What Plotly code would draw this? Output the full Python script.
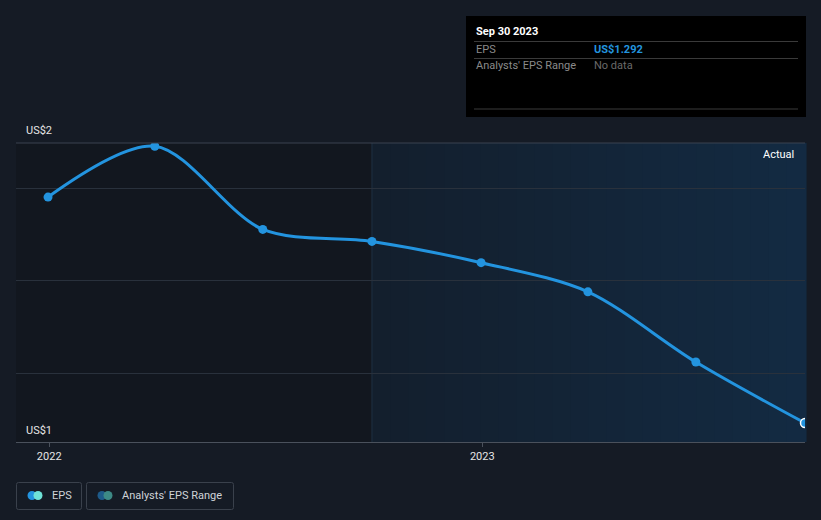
import plotly.graph_objects as go

# ---- data ----
dates = ["2021-12-31", "2022-03-31", "2022-06-30", "2022-09-30",
         "2022-12-31", "2023-03-31", "2023-06-30", "2023-09-30"]
eps = [1.781, 1.891, 1.711, 1.685, 1.639, 1.576, 1.424, 1.292]
grid_vals = [1.4, 1.6, 1.8]
x_tick_vals = ["2022-01-01", "2023-01-01"]
x_tick_text = ["2022", "2023"]
y_labels = ["US$2", "US$1"]
divider_date = "2022-09-30"
x_range = ["2021-12-04", "2023-09-30"]
y_range = [1.251, 1.898]

W, H = 821, 520
L, R, T, B = 16, 805, 143, 442

def px(x):
    return (x - L) / (R - L)

def py(y):
    return (B - y) / (B - T)

BG = "#151b25"
BLUE = "#2394df"

fig = go.Figure()
fig.add_trace(go.Scatter(
    x=dates, y=eps, mode="lines+markers",
    line=dict(color=BLUE, width=3, shape="spline", smoothing=0.9),
    marker=dict(size=9, color=BLUE,
                line=dict(color=[BLUE] * (len(eps) - 1) + ["#ffffff"], width=[0] * (len(eps) - 1) + [1.5])),
    hoverinfo="skip", showlegend=False,
))

shapes = []
# left (past) region
shapes.append(dict(type="rect", xref="x", yref="paper", x0=x_range[0], x1=divider_date, y0=0, y1=1,
                   fillcolor="#12171f", line=dict(width=0), layer="below"))
# right region gradient
n = 24
c0 = (0x13, 0x1f, 0x2d)
c1 = (0x13, 0x2a, 0x42)
x0p = px(372)
for i in range(n):
    f = i / (n - 1)
    col = "rgb(%d,%d,%d)" % tuple(round(a + (b - a) * f) for a, b in zip(c0, c1))
    shapes.append(dict(type="rect", xref="paper", yref="paper",
                       x0=x0p + (1 - x0p) * i / n, x1=x0p + (1 - x0p) * (i + 1) / n + 0.002,
                       y0=0, y1=1, fillcolor=col, line=dict(width=0), layer="below"))
# divider line
shapes.append(dict(type="line", xref="x", yref="paper", x0=divider_date, x1=divider_date, y0=0, y1=1,
                   line=dict(color="#1f3043", width=1), layer="below"))
# top border line
shapes.append(dict(type="line", xref="paper", yref="paper", x0=0, x1=1, y0=1, y1=1,
                   line=dict(color="#3b4350", width=1)))

# tooltip box
shapes.append(dict(type="rect", xref="paper", yref="paper", x0=px(466), x1=px(806), y0=py(117), y1=py(16),
                   fillcolor="#000000", line=dict(width=0)))
for yy in [41.5, 58.5, 109]:
    shapes.append(dict(type="line", xref="paper", yref="paper", x0=px(474), x1=px(798), y0=py(yy), y1=py(yy),
                       line=dict(color="#3a3a3a", width=1)))

# legend boxes
def rrect(x0, y0, x1, y1, r=2):
    return (f"M{px(x0+r)},{py(y0)} L{px(x1-r)},{py(y0)} Q{px(x1)},{py(y0)} {px(x1)},{py(y0+r)} "
            f"L{px(x1)},{py(y1-r)} Q{px(x1)},{py(y1)} {px(x1-r)},{py(y1)} L{px(x0+r)},{py(y1)} "
            f"Q{px(x0)},{py(y1)} {px(x0)},{py(y1-r)} L{px(x0)},{py(y0+r)} Q{px(x0)},{py(y0)} {px(x0+r)},{py(y0)} Z")

shapes.append(dict(type="path", xref="paper", yref="paper", path=rrect(16.5, 482.5, 81.5, 509.5),
                   line=dict(color="#3a414c", width=1)))
shapes.append(dict(type="path", xref="paper", yref="paper", path=rrect(86.5, 482.5, 233.5, 509.5),
                   line=dict(color="#3a414c", width=1)))

def circ(cx, cy, r, col):
    return dict(type="circle", xref="paper", yref="paper", x0=px(cx - r), x1=px(cx + r),
                y0=py(cy + r), y1=py(cy - r), fillcolor=col, line=dict(width=0))

shapes += [circ(32, 495.5, 4.5, BLUE), circ(38, 495.5, 4.5, "#6fe3d8"),
           circ(102, 495.5, 4.5, "#1e5b8a"), circ(108, 495.5, 4.5, "#3d8a86")]

FONT = "Roboto"
ann = []
def text(x, y, s, size=11, color="#ffffff", xanchor="left", weight=None):
    t = f"<b>{s}</b>" if weight else s
    ann.append(dict(xref="paper", yref="paper", x=px(x), y=py(y), text=t, showarrow=False,
                    xanchor=xanchor, yanchor="middle", font=dict(family=FONT, size=size, color=color)))

text(24, 130, y_labels[0], 11, "#e6e6e6")
text(24, 430, y_labels[1], 11, "#e6e6e6")
text(796, 154, "Actual", 11, "#ffffff", xanchor="right")
text(474, 31, "Sep 30 2023", 11, "#ffffff", weight=True)
text(474, 49, "EPS", 11, "#8a8a8a")
text(592, 49, "US$1.292", 11, BLUE, weight=True)
text(474, 66, "Analysts' EPS Range", 11, "#8a8a8a")
text(592, 66, "No data", 11, "#6a6a6a")
text(50, 496, "EPS", 11, "#cfd3d8")
text(120, 496, "Analysts' EPS Range", 11, "#cfd3d8")

fig.update_layout(
    width=W, height=H, margin=dict(l=L, r=W - R, t=T, b=H - B),
    paper_bgcolor=BG, plot_bgcolor="rgba(0,0,0,0)",
    shapes=shapes, annotations=ann, showlegend=False,
    xaxis=dict(type="date", range=x_range, tickvals=x_tick_vals, ticktext=x_tick_text,
               showgrid=False, zeroline=False, showline=True, linecolor="#4a515c", linewidth=1,
               ticks="outside", ticklen=4, tickcolor="#4a515c",
               tickfont=dict(family=FONT, size=11, color="#e6e6e6")),
    yaxis=dict(range=y_range, tickvals=grid_vals, showticklabels=False, showgrid=True,
               gridcolor="#29313c", gridwidth=1, zeroline=False, showline=False),
)

fig.write_html("out.html")
